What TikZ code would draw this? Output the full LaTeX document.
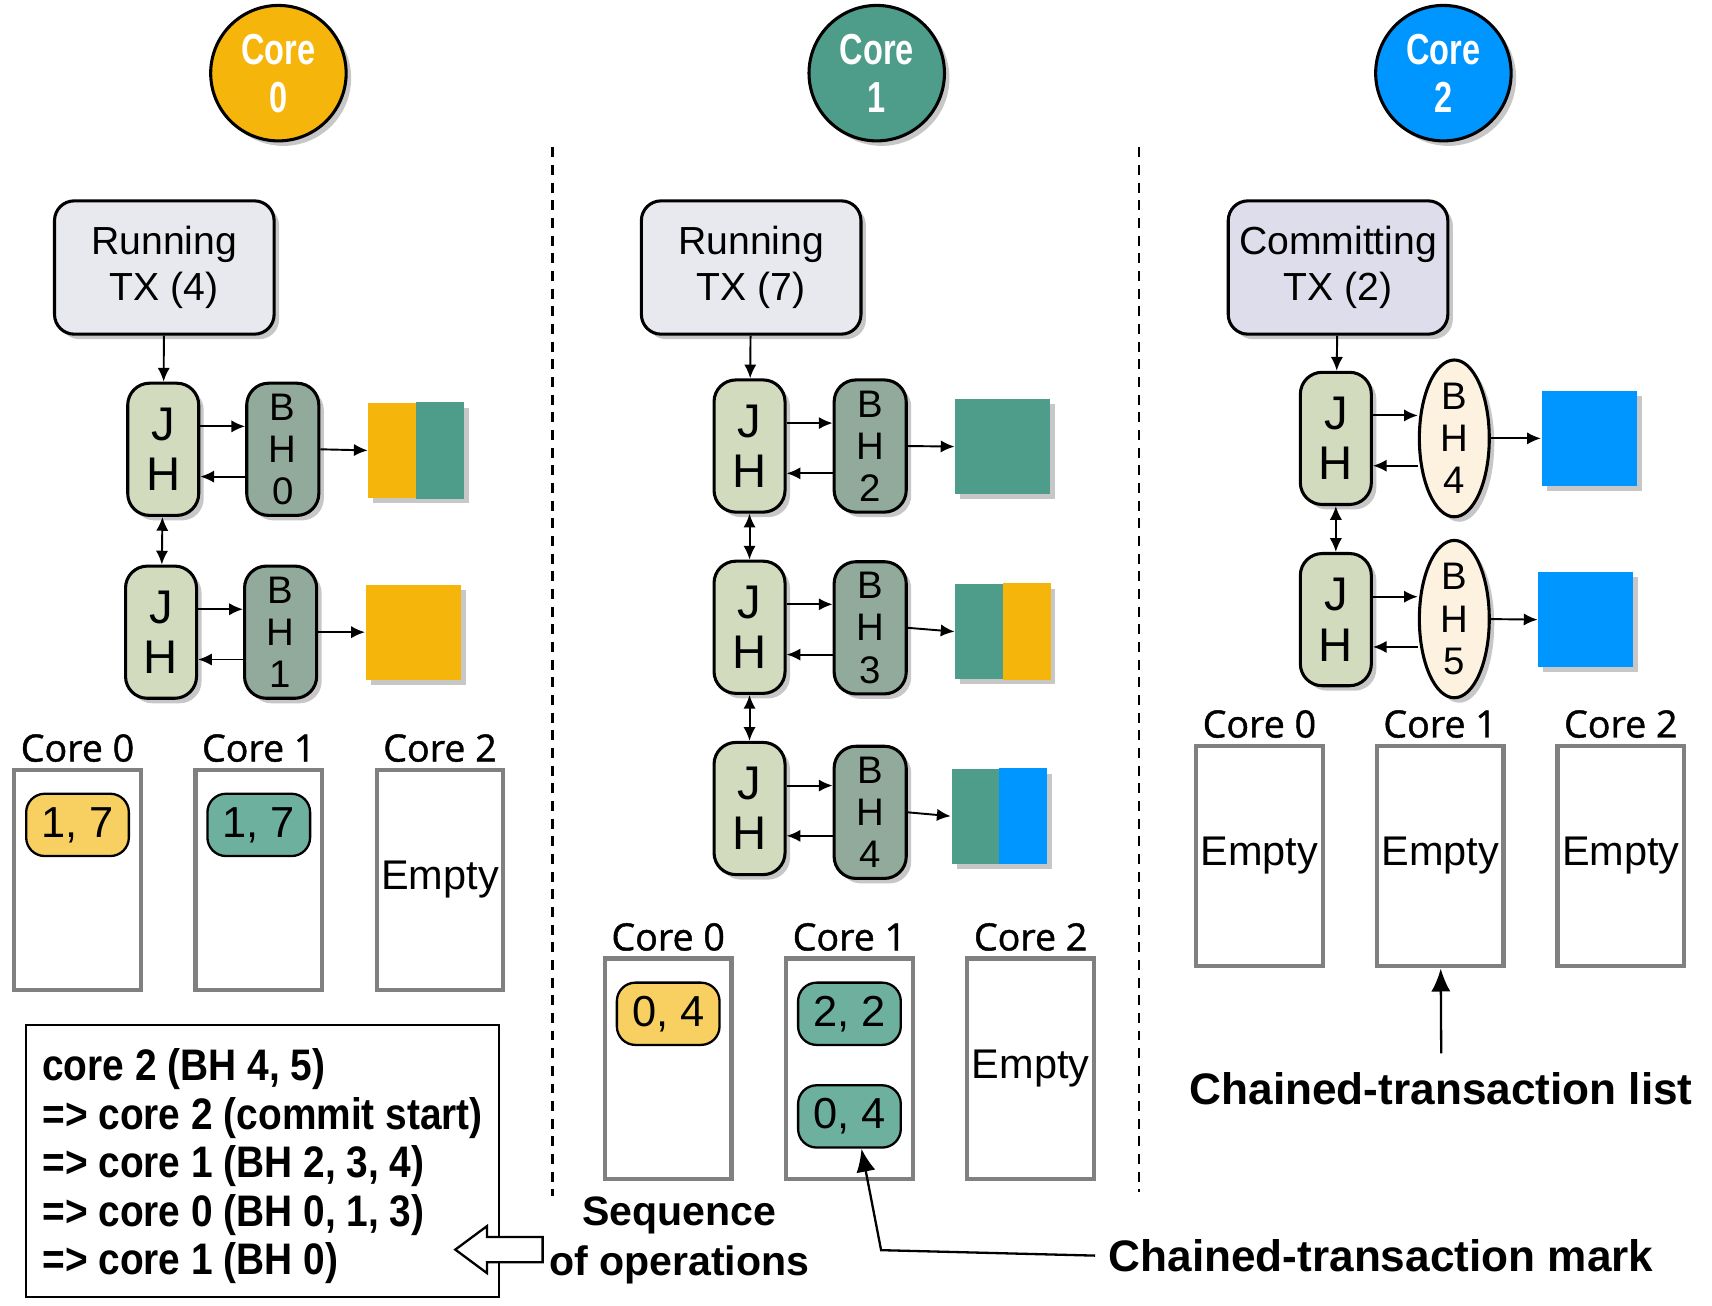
\documentclass[tikz,border=0pt]{standalone}
\usepackage{fontspec}
\setmainfont{Liberation Sans}
\newfontfamily\circfont{Liberation Sans}[FakeStretch=0.75]
\newfontfamily\seqfont{Liberation Sans}[FakeStretch=0.88]
\newfontfamily\labelfont{Open Sans}[FakeBold=1.2]
\usetikzlibrary{arrows.meta, shapes.geometric, shadows, positioning}

\definecolor{coreorange}{HTML}{F5B50A}
\definecolor{coreteal}{HTML}{4E9D8A}
\definecolor{coreblue}{HTML}{0096FF}
\definecolor{pillorange}{HTML}{F8D062}
\definecolor{pillteal}{HTML}{6DB09E}
\definecolor{txfill}{HTML}{E8E8EF}
\definecolor{commitfill}{HTML}{DEDDEC}
\definecolor{jhfill}{HTML}{D2DBBE}
\definecolor{bhfill}{HTML}{91AA9B}
\definecolor{bhcream}{HTML}{FCF2DF}
\definecolor{listgray}{HTML}{808080}

\begin{document}
\begin{tikzpicture}[x=0.01cm, y=-0.01cm,
    % Define styles for consistent formatting
    softshadow/.style={drop shadow={shadow xshift=1.3pt, shadow yshift=-1.3pt, opacity=0.22, fill=black}},
    corecircle/.style={circle, draw=black, thick, fill=#1, minimum size=1.24cm, inner sep=0pt, text=white, align=center, font=\circfont\bfseries\fontsize{11.3}{12.5}\selectfont, softshadow},
    txbox/.style={rectangle, rounded corners=0.18cm, draw=black, thick, fill=#1, minimum width=2.01cm, minimum height=1.22cm, inner xsep=2pt, align=center, font=\fontsize{10.2}{12}\selectfont, softshadow},
    jhbox/.style={rectangle, rounded corners=0.2cm, draw=black, thick, fill=jhfill, minimum width=0.65cm, minimum height=1.21cm, inner sep=0pt, align=center, font=\fontsize{12.3}{13.1}\selectfont, softshadow},
    bhbox/.style={rectangle, rounded corners=0.2cm, draw=black, thick, fill=bhfill, minimum width=0.66cm, minimum height=1.21cm, inner sep=0pt, align=center, font=\fontsize{10}{11}\selectfont, softshadow},
    bhoval/.style={ellipse, draw=black, thick, fill=bhcream, minimum width=0.64cm, minimum height=1.22cm, inner sep=0pt, align=center, font=\fontsize{10}{11}\selectfont, softshadow},
    block/.style={rectangle, fill=#1, minimum size=0.87cm, inner sep=0pt, softshadow},
    listbox/.style={rectangle, draw=listgray, line width=1.1pt, minimum width=1.16cm, minimum height=2.02cm, inner sep=0pt, font=\fontsize{10.8}{13}\selectfont},
    corelabel/.style={font=\labelfont\fontsize{9.8}{12}\selectfont, inner sep=1pt},
    pill/.style={rectangle, rounded corners=0.17cm, draw=black, semithick, fill=#1, minimum width=0.94cm, minimum height=0.57cm, inner sep=0pt, font=\fontsize{11.3}{13}\selectfont},
    seqbox/.style={rectangle, draw=black, line width=0.6pt, minimum width=4.33cm, minimum height=2.49cm, inner sep=0pt, align=left, font=\seqfont\bfseries\fontsize{11.5}{12.66}\selectfont},
    notelabel/.style={font=\bfseries\fontsize{11.5}{13}\selectfont},
    link/.style={-{Latex[length=3.6pt, width=3.2pt]}, line width=0.5pt},
    dlink/.style={{Latex[length=3.6pt, width=3.2pt]}-{Latex[length=3.6pt, width=3.2pt]}, line width=0.5pt},
    bigarrow/.style={-{Latex[length=6pt, width=5pt]}, line width=0.6pt},
    divider/.style={line width=0.6pt, dash pattern=on 2.6pt off 2pt}
]

\useasboundingbox (0,0) rectangle (1568,1196);

% Core headers
\foreach \i/\x/\c in {0/255/coreorange, 1/803/coreteal, 2/1322/coreblue} {
    \node [corecircle=\c] (core\i) at (\x,67) {Core\\\i};
}

% Dividers between the three steps
\draw [divider] (506,135) -- (506,1095);
\draw [divider] (1043,135) -- (1043,1092);

% Transaction boxes
\node [txbox=txfill] (tx4) at (150.5,245) {Running\\TX (4)};
\node [txbox=txfill] (tx7) at (688,245) {Running\\TX (7)};
\node [txbox=commitfill] (tx2) at (1225.5,245) {Committing\\TX (2)};

% Step 1 chain
\node [jhbox] (jh01) at (149.5,411.5) {J\\H};
\node [bhbox] (bh01) at (259,411.5) {B\\H\\0};
\node [block=coreorange] (blk01) at (381,412.5) {};
\fill [coreteal] (blk01.north) rectangle (blk01.south east);
\node [jhbox] (jh02) at (147.5,579) {J\\H};
\node [bhbox] (bh02) at (257,579) {B\\H\\1};
\node [block=coreorange] (blk02) at (378.5,579) {};

% Step 2 chain
\node [jhbox] (jh11) at (686.5,408.5) {J\\H};
\node [bhbox] (bh11) at (797,408.5) {B\\H\\2};
\node [block=coreteal] (blk11) at (918.5,409) {};
\node [jhbox] (jh12) at (686.5,574.5) {J\\H};
\node [bhbox] (bh12) at (797,575) {B\\H\\3};
\node [block=coreteal] (blk12) at (918.5,578.5) {};
\fill [coreorange] (blk12.north) rectangle (blk12.south east);
\node [jhbox] (jh13) at (686.5,740.5) {J\\H};
\node [bhbox] (bh13) at (797,744) {B\\H\\4};
\node [block=coreteal] (blk13) at (915,747.5) {};
\fill [coreblue] (blk13.north) rectangle (blk13.south east);

% Step 3 chain
\node [jhbox] (jh21) at (1223.5,401.5) {J\\H};
\node [bhoval] (bh21) at (1332,401.5) {B\\H\\4};
\node [block=coreblue] (blk21) at (1455.5,401.5) {};
\node [jhbox] (jh22) at (1223.5,567.5) {J\\H};
\node [bhoval] (bh22) at (1332,567) {B\\H\\5};
\node [block=coreblue] (blk22) at (1452.5,567.5) {};

% Links
\draw [link] (tx4) -- (jh01);
\draw [link] (tx7) -- (jh11);
\draw [link] (tx2) -- (jh21);
\foreach \j/\b/\k in {jh01/bh01/blk01, jh02/bh02/blk02, jh11/bh11/blk11, jh12/bh12/blk12, jh13/bh13/blk13, jh21/bh21/blk21, jh22/bh22/blk22} {
    \draw [link] ([yshift=0.21cm]\j.east) -- ([yshift=0.21cm]\j.east -| \b.west);
    \draw [link] ([yshift=-0.25cm]\j.east -| \b.west) -- ([yshift=-0.25cm]\j.east);
    \draw [link] (\b.east) -- (\k.west);
}
\draw [dlink] (jh01) -- (jh02);
\draw [dlink] (jh11) -- (jh12);
\draw [dlink] (jh12) -- (jh13);
\draw [dlink] (jh21) -- (jh22);

% Per-core lists
\foreach \i/\x/\t in {0/71/{}, 1/237/{}, 2/403/Empty} {
    \node [listbox] (lst0\i) at (\x,806) {\t};
    \node [corelabel, above=0.01cm of lst0\i] (lbl0\i) {Core \i};
}
\foreach \i/\x/\t in {0/612/{}, 1/778/{}, 2/944/Empty} {
    \node [listbox] (lst1\i) at (\x,979) {\t};
    \node [corelabel, above=0.01cm of lst1\i] (lbl1\i) {Core \i};
}
\foreach \i/\x in {0/1153.5, 1/1319, 2/1484.5} {
    \node [listbox] (lst2\i) at (\x,784) {Empty};
    \node [corelabel, above=0.01cm of lst2\i] (lbl2\i) {Core \i};
}

% Chained-transaction marks
\node [pill=pillorange] (p00) at (71,755.5) {1, 7};
\node [pill=pillteal] (p01) at (237,755.5) {1, 7};
\node [pill=pillorange] (p10) at (612,928.5) {0, 4};
\node [pill=pillteal] (p11) at (778,928.5) {2, 2};
\node [pill=pillteal] (p12) at (778,1022.5) {0, 4};

% Sequence of operations
\node [seqbox] (seq) at (240.5,1063.5) {\rule{0pt}{11pt}core 2 (BH 4, 5)\\=> core 2 (commit start)\\=> core 1 (BH 2, 3, 4)\\=> core 0 (BH 0, 1, 3)\\=> core 1 (BH 0)};
\node [notelabel, align=center, font=\bfseries\fontsize{10.7}{13}\selectfont] (seqlbl) at (622,1136) {Sequence\\of operations};
\draw [line width=0.6pt, fill=white] (497,1133) -- (446,1133) -- (446,1123) -- (417,1144.5) -- (446,1166) -- (446,1156) -- (497,1156) -- cycle;

% Callouts
\node [notelabel, anchor=west] (mark) at (1003,1150) {Chained-transaction mark};
\coordinate (markbend) at (807,1145);
\draw [bigarrow] (mark.west) -- (markbend) -- ([xshift=0.11cm]p12.south);
\node [notelabel] (list) at (1320,997) {Chained-transaction list};
\draw [bigarrow] ([yshift=0.05cm]list.north) -- (lst21);

\end{tikzpicture}
\end{document}
